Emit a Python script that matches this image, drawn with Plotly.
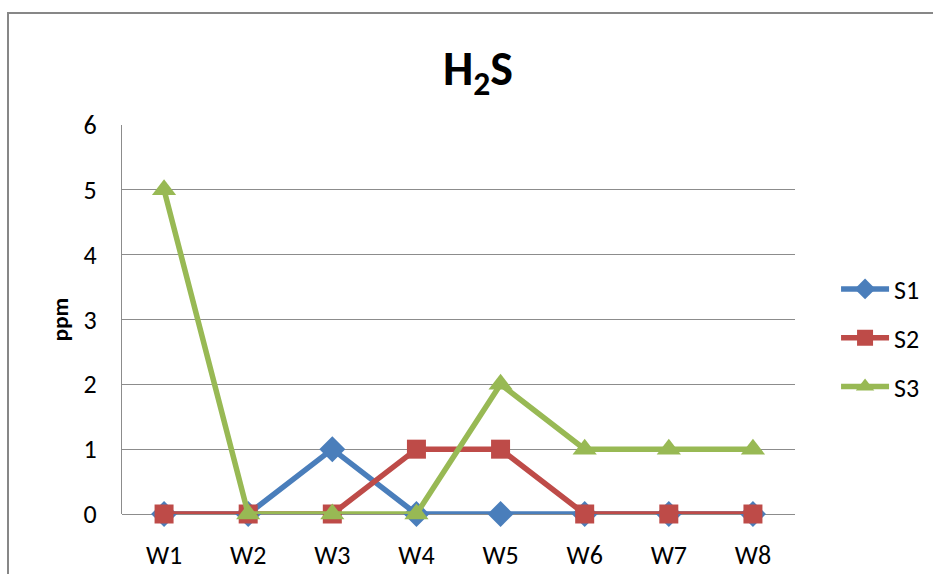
import plotly.graph_objects as go

# H2S concentration per week for three sites
weeks = ["W1", "W2", "W3", "W4", "W5", "W6", "W7", "W8"]
s1 = [0, 0, 1, 0, 0, 0, 0, 0]
s2 = [0, 0, 0, 1, 1, 0, 0, 0]
s3 = [5, 0, 0, 0, 2, 1, 1, 1]
y_ticks = [0, 1, 2, 3, 4, 5, 6]

FONT = "Carlito, Lato, 'Open Sans', sans-serif"
GRID = "#8c8c8c"

series = [
    ("S1", s1, "#4A7EBB", "diamond", 20),
    ("S2", s2, "#BE4B48", "square", 19),
    ("S3", s3, "#98B954", "triangle-up", 21),
]

fig = go.Figure()
for i, (name, vals, color, symbol, size) in enumerate(series):
    fig.add_trace(go.Scatter(
        x=weeks, y=vals, name=name, mode="lines+markers",
        legendgroup=f"g{i}",
        line=dict(color=color, width=5.5),
        marker=dict(symbol=symbol, size=size, color=color),
        cliponaxis=False,
    ))

fig.update_layout(
    width=933, height=574,
    margin=dict(l=122, r=138, t=125, b=60, autoexpand=False),
    paper_bgcolor="white", plot_bgcolor="white",
    font=dict(family=FONT, color="black"),
    title=dict(
        text="<b>H<sub>2</sub>S</b>",
        x=478 / 933, xanchor="center", xref="container",
        y=1 - 68 / 574, yanchor="middle", yref="container",
        font=dict(size=48, family=FONT, color="black"),
    ),
    showlegend=True,
    legend=dict(
        x=1.061, xanchor="left", y=(514 - 338) / 389, yanchor="middle",
        font=dict(size=26, family=FONT),
        itemwidth=48, traceorder="grouped", tracegroupgap=12,
        bgcolor="rgba(0,0,0,0)",
    ),
)

fig.update_xaxes(
    type="category", range=[-0.5, 7.5], automargin=False,
    showgrid=False, showline=False, zeroline=False,
    ticks="outside", ticklen=18, tickcolor="rgba(0,0,0,0)",
    tickfont=dict(size=26, family=FONT, color="black"),
)
fig.update_yaxes(
    range=[0, 6], tickvals=y_ticks, automargin=False,
    showgrid=True, gridcolor=GRID, gridwidth=1.3,
    zeroline=True, zerolinecolor=GRID, zerolinewidth=1.3,
    showline=True, linecolor=GRID, linewidth=1.3,
    ticks="outside", ticklen=19, tickcolor="rgba(0,0,0,0)",
    tickfont=dict(size=26, family=FONT, color="black"),
    title=dict(text="<b>ppm</b>", font=dict(size=23, family=FONT), standoff=8),
)

# outer chart border
fig.add_shape(
    type="rect", xref="paper", yref="paper",
    x0=(8 - 122) / 673, x1=1.4, y0=-0.3, y1=(514 - 13) / 389,
    line=dict(color="#878787", width=2), fillcolor="rgba(0,0,0,0)",
    layer="below",
)

fig.write_html("out.html")
